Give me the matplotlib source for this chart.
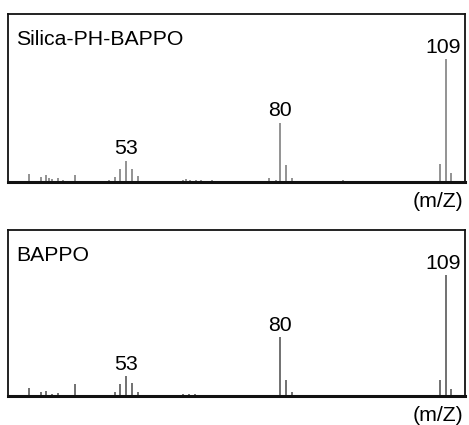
import matplotlib
matplotlib.use("Agg")
import matplotlib.pyplot as plt

plt.rcParams['font.family'] = ['Liberation Sans', 'DejaVu Sans']

# Top panel: Silica-PH-BAPPO
top_title = "Silica-PH-BAPPO"
top_mz = [36, 38, 39, 39.5, 40, 41, 42, 44, 50, 51, 52, 53, 54, 55,
          63, 63.5, 64.2, 65.2, 66.1, 68, 78, 79.2, 80, 81, 82, 91, 108, 109, 110]
top_int = [6.5, 4, 5.5, 3, 2.5, 3.5, 1.5, 6, 2, 4, 11, 17.5, 11, 5,
           1.5, 2.5, 1.5, 1.5, 1.5, 1.5, 3.5, 1.5, 48.5, 14, 3.5, 1.5, 15, 100, 7.5]
top_labels = {53: "53", 80: "80", 109: "109"}

# Bottom panel: BAPPO
bot_title = "BAPPO"
bot_mz = [36, 38, 39, 40, 41, 44, 51, 52, 53, 54, 55, 63, 64, 65,
          80, 81, 82, 108, 109, 110]
bot_int = [6.5, 3.5, 4, 1.5, 2.5, 10, 3.5, 10, 16.5, 10.5, 3.5, 2, 1.5, 1.5,
           48.5, 13, 3, 13, 100, 6]
bot_labels = {53: "53", 80: "80", 109: "109"}

xlabel = "(m/Z)"

fig = plt.figure(figsize=(4.69, 4.25), dpi=100)
ax1 = fig.add_axes([8/469, 243/425, 457/469, 168/425])
ax2 = fig.add_axes([8/469, 29/425, 457/469, 166/425])

for ax, title, mz, inten, labels, col in [
        (ax1, top_title, top_mz, top_int, top_labels, '#8a8a8a'),
        (ax2, bot_title, bot_mz, bot_int, bot_labels, '#666666')]:
    ax.vlines(mz, 0, inten, colors=col, linewidth=1.3)
    ax.set_xlim(32.3, 112.4)
    ax.set_ylim(0, 137)
    ax.set_xticks([])
    ax.set_yticks([])
    for s in ax.spines.values():
        s.set_color('#111111')
        s.set_linewidth(1.3)
    ax.spines['bottom'].set_linewidth(2.2)
    ax.text(0.018, 0.905, title, transform=ax.transAxes, ha='left', va='top',
            fontsize=15.3, color='#000000')
    for m, lab in labels.items():
        h = inten[mz.index(m)]
        xoff = -2 if m == 109 else 0
        ax.annotate(lab, (m, h), xytext=(xoff, 1.5), textcoords='offset points',
                    ha='center', va='bottom', fontsize=15.3, color='#000000')
    ax.text(0.997, -0.06, xlabel, transform=ax.transAxes, ha='right', va='top',
            fontsize=15.3, color='#000000')

fig.savefig("out.png", dpi=100)
